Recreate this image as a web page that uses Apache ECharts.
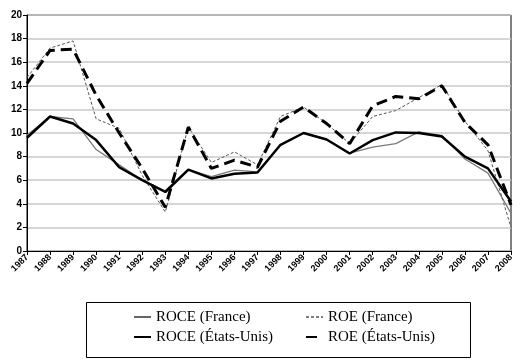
<!DOCTYPE html>
<html>
<head>
<meta charset="utf-8">
<script src="https://cdn.jsdelivr.net/npm/echarts@6/dist/echarts.min.js"></script>
<style>
html,body{margin:0;padding:0;background:#fff;}
#c{width:524px;height:364px;}
</style>
</head>
<body>
<div id="c"></div>
<script>
const years = ['1987','1988','1989','1990','1991','1992','1993','1994','1995','1996','1997','1998','1999','2000','2001','2002','2003','2004','2005','2006','2007','2008'];
const yTicks = [0, 2, 4, 6, 8, 10, 12, 14, 16, 18, 20];
const roceFrance = [9.8, 11.4, 11.2, 8.6, 7.3, 6.0, 5.1, 6.9, 6.3, 6.85, 6.7, 9.0, 10.0, 9.45, 8.3, 8.8, 9.1, 10.1, 9.8, 7.8, 6.6, 3.2];
const roceUS = [9.6, 11.4, 10.8, 9.4, 7.1, 6.0, 5.0, 6.9, 6.15, 6.55, 6.65, 9.0, 10.0, 9.45, 8.26, 9.4, 10.05, 10.0, 9.7, 8.0, 7.0, 4.2];
const roeFrance = [14.7, 17.2, 17.8, 11.2, 10.4, 6.4, 3.3, 10.5, 7.5, 8.4, 7.3, 11.4, 12.2, 10.8, 9.1, 11.4, 11.9, 13.0, 14.1, 11.0, 8.5, 2.0];
const roeUS = [14.2, 17.0, 17.1, 13.2, 10.0, 7.0, 3.7, 10.5, 7.0, 7.7, 7.1, 11.0, 12.2, 10.8, 9.1, 12.3, 13.1, 12.9, 14.0, 10.9, 9.0, 3.9];
const names = ['ROCE (France)', 'ROE (France)', 'ROCE (États-Unis)', 'ROE (États-Unis)'];

const chart = echarts.init(document.getElementById('c'), null, {renderer: 'canvas'});
const legendText = {fontFamily: 'Liberation Serif', fontSize: 15, color: '#000', lineHeight: 20};
const legendCommon = {orient: 'vertical', top: 307, padding: 0, itemGap: 0, itemWidth: 17, itemHeight: 14,
  textStyle: legendText,
  itemStyle: {opacity: 0, color: 'rgba(0,0,0,0)', borderWidth: 0}, selectedMode: false};
chart.setOption({
  animation: false,
  backgroundColor: '#fff',
  grid: {left: 27, right: 13, top: 15, bottom: 113, show: true, borderColor: '#000', borderWidth: 1},
  xAxis: {
    type: 'category', data: years, boundaryGap: false,
    axisLine: {lineStyle: {color: '#000', width: 1}},
    axisTick: {show: true, length: 4, lineStyle: {color: '#000'}},
    axisLabel: {rotate: 45, fontFamily: 'Liberation Sans', fontWeight: 'bold', fontSize: 9, color: '#000', margin: 5, interval: 0},
    splitLine: {show: false}
  },
  yAxis: {
    type: 'value', min: yTicks[0], max: yTicks[yTicks.length - 1], interval: 2,
    axisLine: {show: true, lineStyle: {color: '#000', width: 1}},
    axisTick: {show: true, length: 4, lineStyle: {color: '#000'}},
    axisLabel: {fontFamily: 'Liberation Sans', fontWeight: 'bold', fontSize: 10, color: '#000', margin: 5},
    splitLine: {show: true, lineStyle: {color: '#c8c8c8', width: 1.5}}
  },
  legend: [
    Object.assign({data: [{name: names[0], lineStyle: {color: '#000', width: 1.2}}, names[2]], left: 133}, legendCommon),
    Object.assign({data: [{name: names[1], lineStyle: {color: '#000', width: 1}}, names[3]], left: 305}, legendCommon)
  ],
  graphic: [{type: 'rect', left: 84, top: 300, shape: {width: 384, height: 55},
             style: {fill: 'none', stroke: '#000', lineWidth: 1}, silent: true}],
  series: [
    {name: names[0], type: 'line', data: roceFrance, symbol: 'none', color: '#000',
     lineStyle: {color: '#7a7a7a', width: 1.3, type: 'solid'}, z: 2},
    {name: names[1], type: 'line', data: roeFrance, symbol: 'none', color: '#000',
     lineStyle: {color: '#555', width: 1, type: [3, 2]}, z: 3},
    {name: names[2], type: 'line', data: roceUS, symbol: 'none', color: '#000',
     lineStyle: {color: '#000', width: 2.5, type: 'solid'}, z: 4},
    {name: names[3], type: 'line', data: roeUS, symbol: 'none', color: '#000',
     lineStyle: {color: '#000', width: 3, type: [11, 6]}, z: 5}
  ]
});
</script>
</body>
</html>
